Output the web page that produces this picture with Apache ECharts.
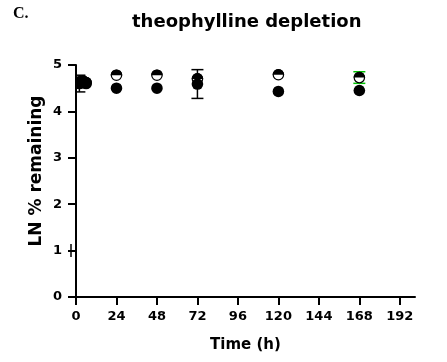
<!DOCTYPE html>
<html>
<head>
<meta charset="utf-8">
<script src="https://cdn.jsdelivr.net/npm/echarts@6/dist/echarts.min.js"></script>
<style>html,body{margin:0;padding:0;background:#fff}#c{width:447px;height:362px}</style>
</head>
<body>
<div id="c"></div>
<script>
// ---- data ----
const times = [0, 2, 4, 6, 24, 48, 72, 120, 168];
const openVals   = [4.61, 4.63, 4.66, 4.62, 4.78, 4.78, 4.70, 4.79, 4.73];
const openErr    = [0, 0, 0, 0, 0, 0, 0, 0, 0.125];
const filledVals = [4.61, 4.60, 4.62, 4.60, 4.50, 4.50, 4.59, 4.43, 4.45];
const filledErr  = [0, 0.18, 0, 0, 0, 0, 0.31, 0, 0];
const xTicks = [0, 24, 48, 72, 96, 120, 144, 168, 192];
const yTicks = [0, 1, 2, 3, 4, 5];
const titleText = 'theophylline depletion';
const panelLabel = 'C.';
const xName = 'Time (h)';
const yName = 'LN % remaining';

const SANS = '"DejaVu Sans", "Liberation Sans", Arial, sans-serif';
const chart = echarts.init(document.getElementById('c'), null, {renderer: 'canvas'});
const R = 5.8;

function markerSeries(name, vals, kind) {
  return {
    type: 'custom', name, clip: true, z: 5,
    data: times.map((t, i) => [t, vals[i]]),
    renderItem(params, api) {
      const p = api.coord([api.value(0), api.value(1)]);
      if (kind === 'filled') {
        return {type: 'circle', shape: {cx: p[0], cy: p[1], r: R}, style: {fill: '#000'}};
      }
      return {type: 'group', children: [
        {type: 'circle', shape: {cx: p[0], cy: p[1], r: R - 0.6}, style: {fill: '#fff', stroke: '#000', lineWidth: 1.2}},
        {type: 'sector', shape: {cx: p[0], cy: p[1], r0: 0, r: R, startAngle: Math.PI, endAngle: 2 * Math.PI, clockwise: true}, style: {fill: '#000'}}
      ]};
    }
  };
}

function errorSeries(name, vals, errs, color) {
  const data = [];
  times.forEach((t, i) => { if (errs[i] > 0) data.push([t, vals[i], errs[i]]); });
  return {
    type: 'custom', name, clip: true, z: 4,
    data,
    renderItem(params, api) {
      const x = api.value(0), v = api.value(1), e = api.value(2);
      const lo = api.coord([x, v - e]), hi = api.coord([x, v + e]);
      const w = 6;
      const st = {stroke: color, lineWidth: 1.5};
      return {type: 'group', children: [
        {type: 'line', shape: {x1: lo[0], y1: lo[1], x2: hi[0], y2: hi[1]}, style: {stroke: '#000', lineWidth: 1.5}},
        {type: 'line', shape: {x1: lo[0] - w, y1: lo[1], x2: lo[0] + w, y2: lo[1]}, style: st},
        {type: 'line', shape: {x1: hi[0] - w, y1: hi[1], x2: hi[0] + w, y2: hi[1]}, style: st}
      ]};
    }
  };
}

const decoSeries = {
  type: 'custom', clip: false, z: 3, silent: true,
  data: [[0, 1]],
  renderItem(params, api) {
    const p = api.coord([0, 1]);
    const o = api.coord([0, 0]);
    return {type: 'group', children: [
      {type: 'line', shape: {x1: p[0] - 5, y1: p[1] - 6.5, x2: p[0] - 5, y2: p[1] + 6.5}, style: {stroke: '#000', lineWidth: 1.5}},
      {type: 'line', shape: {x1: o[0], y1: o[1], x2: o[0], y2: o[1] + 5}, style: {stroke: '#000', lineWidth: 2}}
    ]};
  }
};

const option = {
  animation: false,
  backgroundColor: '#fff',
  title: [
    {text: titleText, left: 127, top: 8, textStyle: {fontFamily: SANS, fontWeight: 'bold', fontSize: 18, color: '#000'}},
    {text: panelLabel, left: 8, top: 1, textStyle: {fontFamily: '"Liberation Serif", "Times New Roman", serif', fontWeight: 'bold', fontSize: 16, color: '#000'}}
  ],
  grid: {left: 76, top: 65, right: 32, bottom: 65, containLabel: false, outerBoundsMode: 'none'},
  xAxis: {
    type: 'value', min: 0, max: 201,
    name: xName, nameLocation: 'middle', nameGap: 41, nameMoveOverlap: false,
    nameTextStyle: {fontFamily: SANS, fontWeight: 'bold', fontSize: 15, color: '#000'},
    axisLine: {show: true, onZero: false, lineStyle: {color: '#000', width: 2}},
    axisTick: {show: true, length: 8, customValues: xTicks, lineStyle: {color: '#000', width: 2}},
    axisLabel: {show: true, customValues: xTicks, margin: 13, fontFamily: SANS, fontWeight: 'bold', fontSize: 13, color: '#000'},
    splitLine: {show: false}
  },
  yAxis: {
    type: 'value', min: 0, max: 5, interval: 1,
    name: yName, nameLocation: 'middle', nameGap: 31, nameMoveOverlap: false,
    nameTextStyle: {fontFamily: SANS, fontWeight: 'bold', fontSize: 17, color: '#000', padding: [0, 0, 0, 20]},
    axisLine: {show: true, onZero: false, lineStyle: {color: '#000', width: 2}},
    axisTick: {show: true, length: 8, customValues: yTicks, lineStyle: {color: '#000', width: 2}},
    axisLabel: {show: true, customValues: yTicks, margin: 14, fontFamily: SANS, fontWeight: 'bold', fontSize: 13, color: '#000'},
    splitLine: {show: false}
  },
  series: [
    decoSeries,
    errorSeries('open err', openVals, openErr, '#00c000'),
    errorSeries('filled err', filledVals, filledErr, '#000'),
    markerSeries('open', openVals, 'open'),
    markerSeries('filled', filledVals, 'filled')
  ]
};
chart.setOption(option);
</script>
</body>
</html>
